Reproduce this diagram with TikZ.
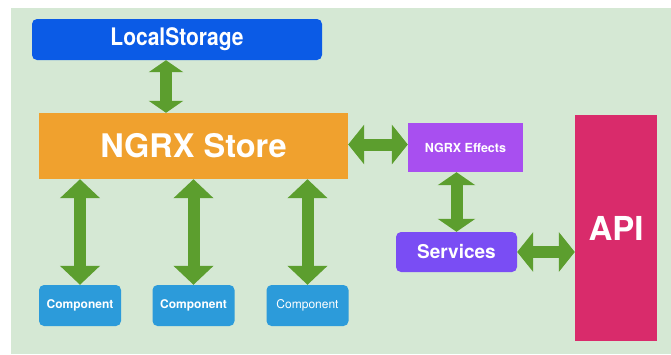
\documentclass[tikz,border=0pt]{standalone}
\usepackage{fontspec}
\setmainfont{TeX Gyre Heros}
\usepackage{tikz}
\usetikzlibrary{arrows.meta}
\usepackage{xcolor}
\definecolor{bggreen}{HTML}{D5E8D4}
\definecolor{arrowgreen}{HTML}{5C9E2E}
\definecolor{lsblue}{HTML}{0B5BE6}
\definecolor{storeorange}{HTML}{F0A12E}
\definecolor{compblue}{HTML}{2C9BDA}
\definecolor{fxpurple}{HTML}{A84FF0}
\definecolor{svviolet}{HTML}{7A4DF4}
\definecolor{apipink}{HTML}{D92B6B}
\newcommand{\fsz}[1]{\fontsize{#1}{#1}\selectfont\bfseries}

\begin{document}
\begin{tikzpicture}[x=1pt, y=-1pt,
  box/.style={text=white, inner sep=0pt, align=center},
  biarrow/.style={draw=arrowgreen, line width=12pt,
    {Triangle[width=39pt,length=16pt]}-{Triangle[width=39pt,length=16pt]}}]
\useasboundingbox (0, 0) rectangle (671, 354);
\fill[white] (0, 0) rectangle (671, 354);
\fill[bggreen] (11, 8) rectangle (671, 354);
\node[box, fill=lsblue, rounded corners=5pt, minimum width=290pt, minimum height=41pt] (ls) at (177, 39.5) {\fsz{21}\scalebox{1}[1.15]{LocalStorage}};
\node[box, fill=storeorange, minimum width=309pt, minimum height=66pt] (store) at (193.5, 146) {\fsz{32.5}NGRX Store};
\node[box, fill=compblue, rounded corners=5pt, minimum width=82pt, minimum height=41pt] (c1) at (80, 305.5) {\fsz{12}Component};
\node[box, fill=compblue, rounded corners=5pt, minimum width=82pt, minimum height=41pt] (c2) at (193.5, 305.5) {\fsz{12}Component};
\node[box, fill=compblue, rounded corners=5pt, minimum width=82pt, minimum height=41pt] (c3) at (307.5, 305.5) {\fontsize{12}{12}\selectfont Component};
\node[box, fill=fxpurple, minimum width=115pt, minimum height=49pt] (fx) at (465.5, 147.5) {\fsz{12.5}NGRX Effects};
\node[box, fill=svviolet, rounded corners=5pt, minimum width=121pt, minimum height=40pt] (sv) at (456.5, 252) {\fsz{19}Services};
\node[box, fill=apipink, minimum width=82pt, minimum height=226pt] (api) at (616, 228) {\fsz{33}API};
\draw[biarrow, {Triangle[width=34pt,length=12pt]}-{Triangle[width=34pt,length=12pt]}] ([xshift=-11pt]ls.south) -- ([xshift=-11pt]ls.south |- store.north);
\draw[biarrow, {Triangle[width=39pt,length=19pt]}-{Triangle[width=39pt,length=19pt]}] (store.south -| c1.north) -- (c1.north);
\draw[biarrow, {Triangle[width=39pt,length=19pt]}-{Triangle[width=39pt,length=19pt]}] (store.south -| c2.north) -- (c2.north);
\draw[biarrow, {Triangle[width=39pt,length=19pt]}-{Triangle[width=39pt,length=19pt]}] (store.south -| c3.north) -- (c3.north);
\draw[biarrow] ([yshift=3pt]store.east |- fx.west) -- ([yshift=3pt]fx.west);
\draw[biarrow, {Triangle[width=37pt,length=13pt]}-{Triangle[width=37pt,length=13pt]}] (fx.south -| sv.north) -- (sv.north);
\draw[biarrow] (sv.east) -- (sv.east -| api.west);
\end{tikzpicture}
\end{document}
